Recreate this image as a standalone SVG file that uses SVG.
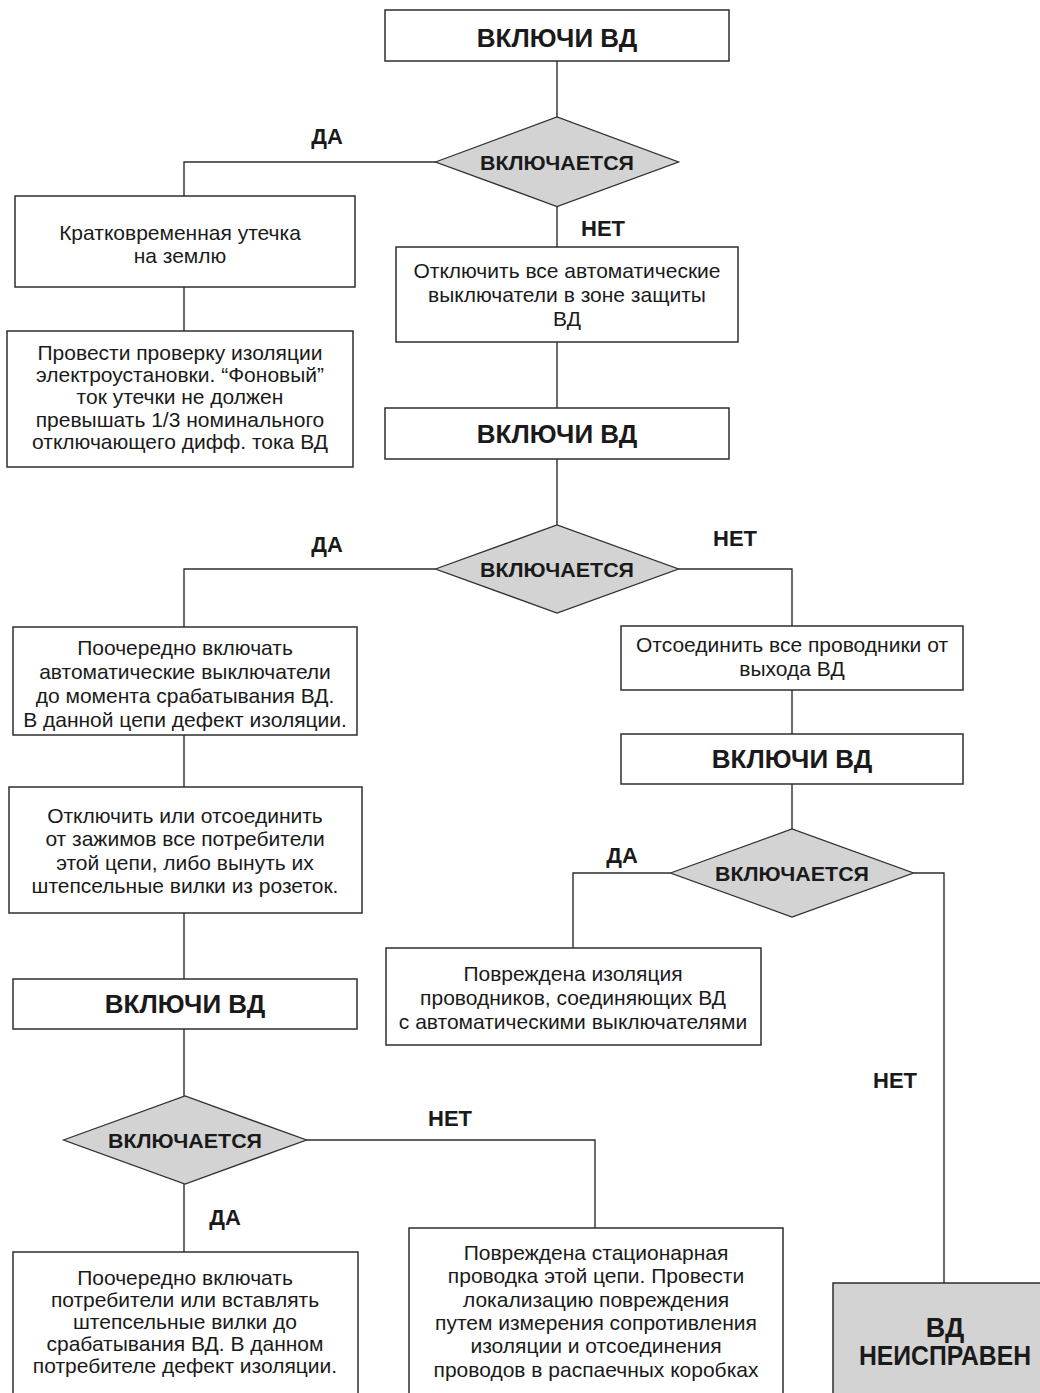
<svg xmlns="http://www.w3.org/2000/svg" width="1040" height="1393" viewBox="0 0 1040 1393">
<style>
.box{fill:#fff;stroke:#2e2e2e;stroke-width:1.5}
.dia{fill:#d3d3d4;stroke:#2e2e2e;stroke-width:1.3}
.gray{fill:#d3d3d4;stroke:#2e2e2e;stroke-width:1.5}
.con{fill:none;stroke:#2e2e2e;stroke-width:1.4}
.t{font-family:"Liberation Sans",Arial,sans-serif;font-size:21px;fill:#1a1a1a;text-anchor:middle}
.h{font-family:"Liberation Sans",Arial,sans-serif;font-size:26px;font-weight:bold;fill:#1a1a1a;text-anchor:middle}
.d{font-family:"Liberation Sans",Arial,sans-serif;font-size:20px;font-weight:bold;fill:#1a1a1a;text-anchor:middle}
.l{font-family:"Liberation Sans",Arial,sans-serif;font-size:22px;font-weight:bold;fill:#1a1a1a;text-anchor:middle}
.big{font-family:"Liberation Sans",Arial,sans-serif;font-size:27px;font-weight:bold;fill:#1a1a1a;text-anchor:middle}
</style>
<rect width="1040" height="1393" fill="#fff"/>
<g id="connectors">
<path class="con" d="M557,61V117"/>
<path class="con" d="M435.5,162H184V196"/>
<path class="con" d="M557,206.5V247"/>
<path class="con" d="M184,287V331"/>
<path class="con" d="M557,342V408"/>
<path class="con" d="M557,459V525"/>
<path class="con" d="M435.5,569H184V627"/>
<path class="con" d="M678.5,569H792V626"/>
<path class="con" d="M184,735V787"/>
<path class="con" d="M792,690V734"/>
<path class="con" d="M792,784V829"/>
<path class="con" d="M670.5,873H573V948"/>
<path class="con" d="M913.5,873H944V1283"/>
<path class="con" d="M184,913V979"/>
<path class="con" d="M184,1029V1096"/>
<path class="con" d="M184,1184V1252"/>
<path class="con" d="M306.5,1140H595V1228"/>
<text class="l" x="327" y="144">ДА</text>
<text class="l" x="603" y="236">НЕТ</text>
<text class="l" x="327" y="552">ДА</text>
<text class="l" x="735" y="546">НЕТ</text>
<text class="l" x="622" y="863">ДА</text>
<text class="l" x="895" y="1088">НЕТ</text>
<text class="l" x="450" y="1126">НЕТ</text>
<text class="l" x="225" y="1225">ДА</text>
</g>
<g id="n1">
<rect class="box" x="385" y="10" width="344" height="51"/>
<text class="h" x="557" y="47">ВКЛЮЧИ ВД</text>
</g>
<g id="d1">
<polygon class="dia" points="435.5,162 557,117 678.5,162 557,206.5"/>
<text class="d" x="557" y="170" textLength="154" lengthAdjust="spacingAndGlyphs">ВКЛЮЧАЕТСЯ</text>
</g>
<g id="n2">
<rect class="box" x="15" y="196" width="340" height="91"/>
<text class="t" x="180" y="240">Кратковременная утечка</text>
<text class="t" x="180" y="263">на землю</text>
</g>
<g id="n3">
<rect class="box" x="7" y="331" width="346" height="136"/>
<text class="t" x="180" y="360">Провести проверку изоляции</text>
<text class="t" x="180" y="382">электроустановки. “Фоновый”</text>
<text class="t" x="180" y="404">ток утечки не должен</text>
<text class="t" x="180" y="427">превышать 1/3 номинального</text>
<text class="t" x="180" y="449">отключающего дифф. тока ВД</text>
</g>
<g id="n4">
<rect class="box" x="396" y="247" width="342" height="95"/>
<text class="t" x="567" y="278">Отключить все автоматические</text>
<text class="t" x="567" y="302">выключатели в зоне защиты</text>
<text class="t" x="567" y="326">ВД</text>
</g>
<g id="n5">
<rect class="box" x="385" y="408" width="344" height="51"/>
<text class="h" x="557" y="443">ВКЛЮЧИ ВД</text>
</g>
<g id="d2">
<polygon class="dia" points="435.5,569 557,525 678.5,569 557,613"/>
<text class="d" x="557" y="577" textLength="154" lengthAdjust="spacingAndGlyphs">ВКЛЮЧАЕТСЯ</text>
</g>
<g id="n6">
<rect class="box" x="13" y="627" width="344" height="108"/>
<text class="t" x="185" y="655">Поочередно включать</text>
<text class="t" x="185" y="679">автоматические выключатели</text>
<text class="t" x="185" y="703">до момента срабатывания ВД.</text>
<text class="t" x="185" y="727">В данной цепи дефект изоляции.</text>
</g>
<g id="n7">
<rect class="box" x="621" y="626" width="342" height="64"/>
<text class="t" x="792" y="652">Отсоединить все проводники от</text>
<text class="t" x="792" y="676">выхода ВД</text>
</g>
<g id="n8">
<rect class="box" x="621" y="734" width="342" height="50"/>
<text class="h" x="792" y="768">ВКЛЮЧИ ВД</text>
</g>
<g id="d3">
<polygon class="dia" points="670.5,873 792,829 913.5,873 792,917"/>
<text class="d" x="792" y="881" textLength="154" lengthAdjust="spacingAndGlyphs">ВКЛЮЧАЕТСЯ</text>
</g>
<g id="n9">
<rect class="box" x="9" y="787" width="353" height="126"/>
<text class="t" x="185" y="823">Отключить или отсоединить</text>
<text class="t" x="185" y="846">от зажимов все потребители</text>
<text class="t" x="185" y="870">этой цепи, либо вынуть их</text>
<text class="t" x="185" y="893">штепсельные  вилки из розеток.</text>
</g>
<g id="n10">
<rect class="box" x="386" y="948" width="375" height="97"/>
<text class="t" x="573" y="981">Повреждена изоляция</text>
<text class="t" x="573" y="1005">проводников, соединяющих  ВД</text>
<text class="t" x="573" y="1029">с автоматическими выключателями</text>
</g>
<g id="n11">
<rect class="box" x="13" y="979" width="344" height="50"/>
<text class="h" x="185" y="1013">ВКЛЮЧИ ВД</text>
</g>
<g id="d4">
<polygon class="dia" points="63.5,1140 185,1096 306.5,1140 185,1184"/>
<text class="d" x="185" y="1148" textLength="154" lengthAdjust="spacingAndGlyphs">ВКЛЮЧАЕТСЯ</text>
</g>
<g id="n12">
<rect class="box" x="13" y="1252" width="345" height="160"/>
<text class="t" x="185" y="1285">Поочередно включать</text>
<text class="t" x="185" y="1307">потребители или вставлять</text>
<text class="t" x="185" y="1329">штепсельные вилки до</text>
<text class="t" x="185" y="1351">срабатывания ВД. В данном</text>
<text class="t" x="185" y="1373">потребителе дефект изоляции.</text>
</g>
<g id="n13">
<rect class="box" x="409" y="1228" width="374" height="180"/>
<text class="t" x="596" y="1260">Повреждена стационарная</text>
<text class="t" x="596" y="1283">проводка этой цепи. Провести</text>
<text class="t" x="596" y="1307">локализацию повреждения</text>
<text class="t" x="596" y="1330">путем измерения сопротивления</text>
<text class="t" x="596" y="1353">изоляции и отсоединения</text>
<text class="t" x="596" y="1377">проводов в распаечных коробках</text>
</g>
<g id="n14">
<rect class="gray" x="833" y="1283" width="220" height="130"/>
<text class="big" x="945" y="1337">ВД</text>
<text class="big" x="945" y="1365" textLength="172" lengthAdjust="spacingAndGlyphs">НЕИСПРАВЕН</text>
</g>
</svg>
